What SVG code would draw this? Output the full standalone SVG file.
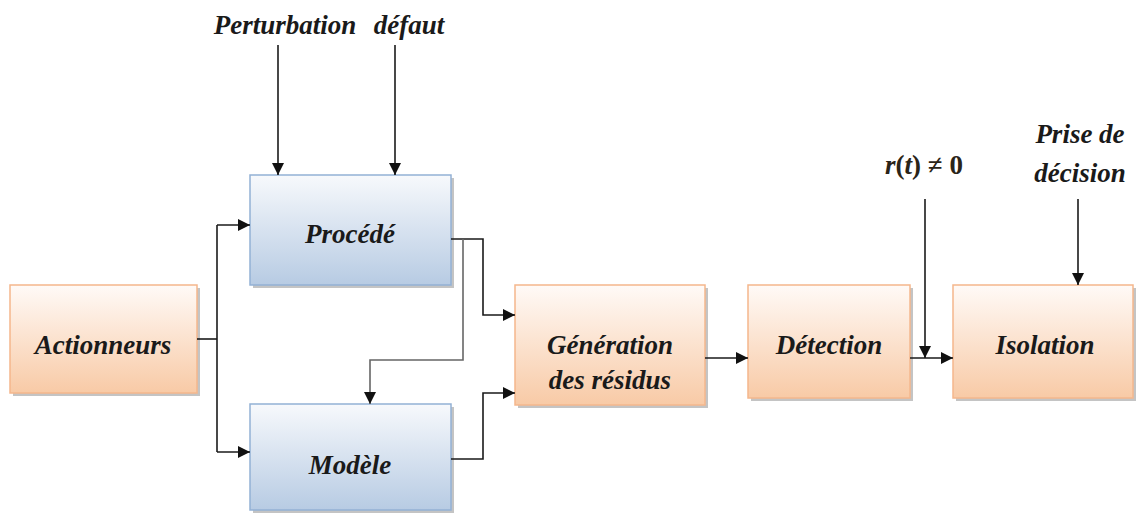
<svg xmlns="http://www.w3.org/2000/svg" width="1136" height="515" viewBox="0 0 1136 515">
  <defs>
    <linearGradient id="gOrange" x1="0" y1="0" x2="0" y2="1">
      <stop offset="0" stop-color="#fffaf7"/>
      <stop offset="1" stop-color="#f8caa6"/>
    </linearGradient>
    <linearGradient id="gBlue" x1="0" y1="0" x2="0" y2="1">
      <stop offset="0" stop-color="#f7f9fc"/>
      <stop offset="1" stop-color="#b7cbe3"/>
    </linearGradient>
    <marker id="arr" viewBox="0 0 10 10" refX="10" refY="5" markerWidth="12" markerHeight="12" markerUnits="userSpaceOnUse" orient="auto">
      <path d="M0,0 L10,5 L0,10 Z" fill="#111"/>
    </marker>
    <style>
      .lbl { font-family: "Liberation Serif", "Times New Roman", serif; font-weight: bold; font-style: italic; font-size: 27px; fill: #1a1a1a; text-anchor: middle; }
      .shadow { fill: #c4c4c4; }
      .orange { fill: url(#gOrange); stroke: #f5b78c; stroke-width: 1.5; }
      .blue { fill: url(#gBlue); stroke: #93b1d5; stroke-width: 1.5; }
      .wire { fill: none; stroke: #1a1a1a; stroke-width: 1.6; }
      .wire2 { fill: none; stroke: #666; stroke-width: 1.6; }
    </style>
  </defs>
  <rect width="1136" height="515" fill="#ffffff"/>

  <!-- Nodes -->
  <g id="actionneurs">
    <rect class="shadow" x="13" y="288" width="187" height="108"/>
    <rect class="orange" x="10" y="285" width="187" height="108"/>
    <text class="lbl" x="103" y="354">Actionneurs</text>
  </g>
  <g id="procede">
    <rect class="shadow" x="253" y="178" width="201" height="110"/>
    <rect class="blue" x="250" y="175" width="201" height="110"/>
    <text class="lbl" x="350" y="243">Procédé</text>
  </g>
  <g id="modele">
    <rect class="shadow" x="253" y="407" width="201" height="106"/>
    <rect class="blue" x="250" y="404" width="201" height="106"/>
    <text class="lbl" x="350" y="474">Modèle</text>
  </g>
  <g id="generation">
    <rect class="shadow" x="518" y="288" width="190" height="120"/>
    <rect class="orange" x="515" y="285" width="190" height="120"/>
    <text class="lbl" x="610" y="354">Génération</text>
    <text class="lbl" x="610" y="389">des résidus</text>
  </g>
  <g id="detection">
    <rect class="shadow" x="751" y="288" width="162" height="113"/>
    <rect class="orange" x="748" y="285" width="162" height="113"/>
    <text class="lbl" x="829" y="354">Détection</text>
  </g>
  <g id="isolation">
    <rect class="shadow" x="956" y="288" width="180" height="113"/>
    <rect class="orange" x="953" y="285" width="180" height="113"/>
    <text class="lbl" x="1045" y="354">Isolation</text>
  </g>

  <!-- Free labels -->
  <g id="labels">
    <text class="lbl" x="285" y="34">Perturbation</text>
    <text class="lbl" x="409" y="34">défaut</text>
    <text class="lbl" x="1080" y="143">Prise de</text>
    <text class="lbl" x="1080" y="182">décision</text>
    <text x="924" y="174" style="font-family: 'Liberation Serif', serif; font-weight: bold; font-size: 27px; fill: #2a2418; text-anchor: middle;"><tspan font-style="italic">r</tspan>(<tspan font-style="italic">t</tspan>) ≠ 0</text>
  </g>

  <!-- Connectors -->
  <g id="connectors">
    <path class="wire" d="M197,339 H217"/>
    <path class="wire" d="M217,225 V452"/>
    <path class="wire" d="M217,225 H250" marker-end="url(#arr)"/>
    <path class="wire" d="M217,452 H250" marker-end="url(#arr)"/>
    <path class="wire" d="M278,45 V175" marker-end="url(#arr)"/>
    <path class="wire" d="M395,45 V175" marker-end="url(#arr)"/>
    <path class="wire" d="M451,239 H483 V315 H515" marker-end="url(#arr)"/>
    <path class="wire2" d="M463,239 V360 H370 V404" marker-end="url(#arr)"/>
    <path class="wire" d="M451,459 H483 V393 H515" marker-end="url(#arr)"/>
    <path class="wire" d="M705,358 H748" marker-end="url(#arr)"/>
    <path class="wire" d="M910,358 H953" marker-end="url(#arr)"/>
    <path class="wire" d="M925,199 V358" marker-end="url(#arr)"/>
    <path class="wire" d="M1078,199 V285" marker-end="url(#arr)"/>
  </g>
</svg>
